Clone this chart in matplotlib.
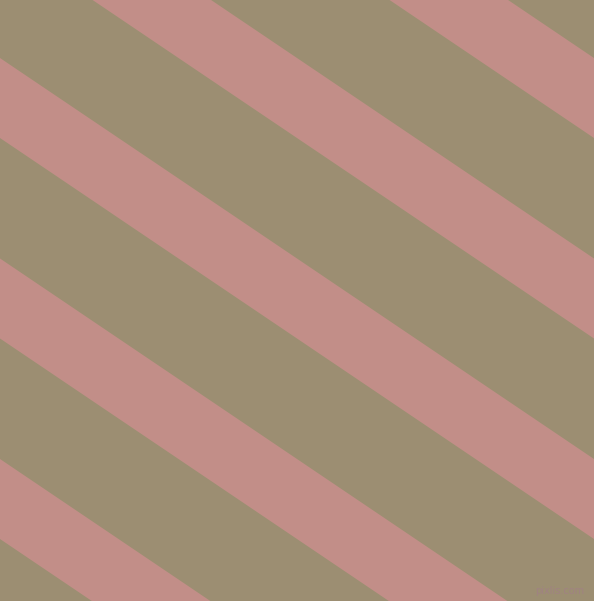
import numpy as np
import matplotlib.pyplot as plt

# diagonal stripe pattern, pixel units (y grows downward)
ancho, alto = 594, 601
pendiente = 200.5 / 297
grosor = 80
cortes = [-343, -142.5, 58, 258.5, 459]   # y of each pink band's upper edge at x=0

color_fondo = '#9c8e72'
color_banda = '#c28e88'

fig = plt.figure(figsize=(ancho / 100, alto / 100), dpi=100)
ax = fig.add_axes([0, 0, 1, 1])
ax.set_facecolor(color_fondo)

x = np.array([0, ancho])
for b in cortes:
    ax.fill_between(x, b + pendiente * x, b + grosor + pendiente * x,
                    color=color_banda, linewidth=0)

ax.text(584, 591, 'pixlis.com', fontsize=7, color='#a08282',
        ha='right', va='center')

ax.set_xlim(0, ancho)
ax.set_ylim(alto, 0)
ax.axis('off')
fig.patch.set_facecolor(color_fondo)
fig.savefig('out.png', dpi=100, facecolor=color_fondo)
